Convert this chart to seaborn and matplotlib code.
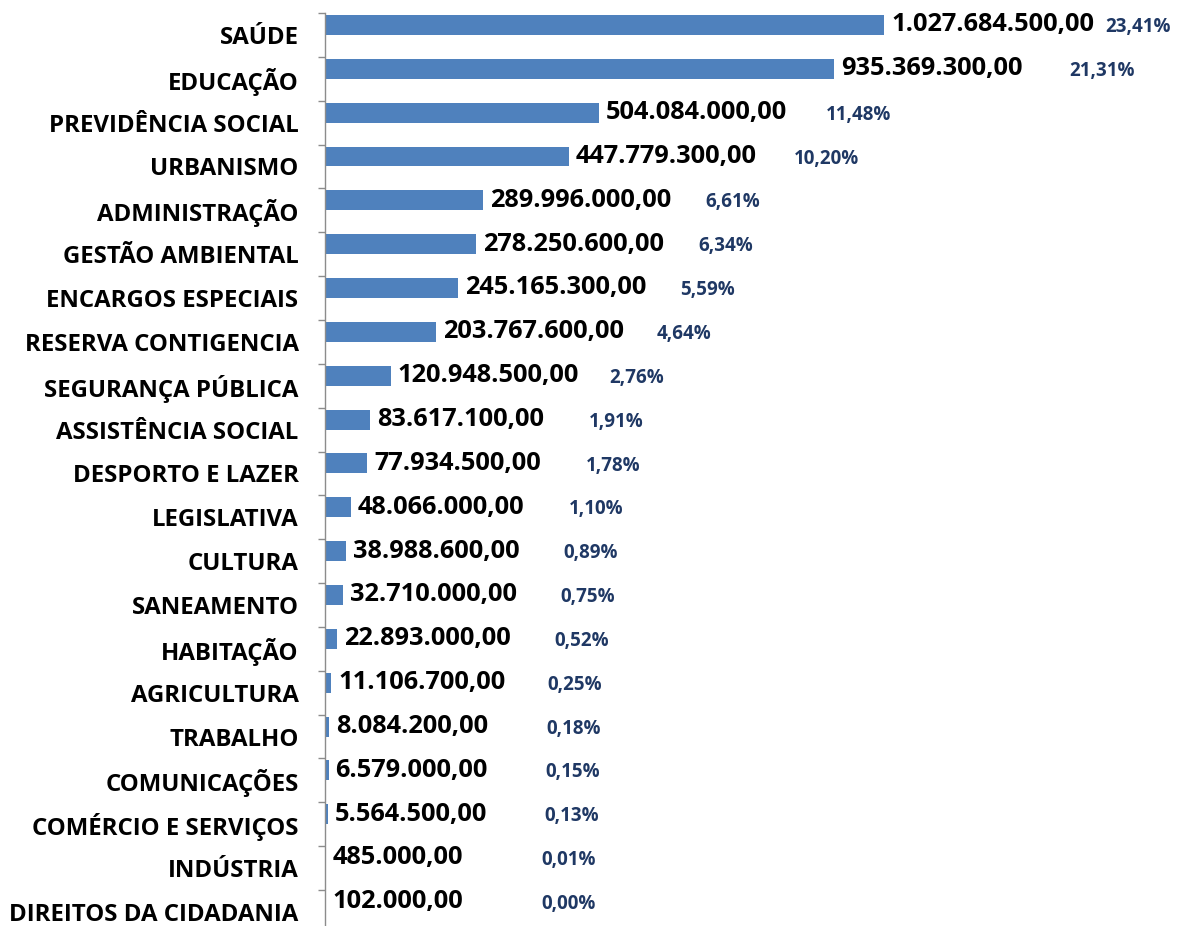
import numpy as np
import pandas as pd
import matplotlib
matplotlib.use("Agg")
import matplotlib.pyplot as plt
import seaborn as sns

categorias = ["SAÚDE", "EDUCAÇÃO", "PREVIDÊNCIA SOCIAL", "URBANISMO", "ADMINISTRAÇÃO",
              "GESTÃO AMBIENTAL", "ENCARGOS ESPECIAIS", "RESERVA CONTIGENCIA",
              "SEGURANÇA PÚBLICA", "ASSISTÊNCIA SOCIAL", "DESPORTO E LAZER", "LEGISLATIVA",
              "CULTURA", "SANEAMENTO", "HABITAÇÃO", "AGRICULTURA", "TRABALHO",
              "COMUNICAÇÕES", "COMÉRCIO E SERVIÇOS", "INDÚSTRIA", "DIREITOS DA CIDADANIA"]
valores = [1027684500.00, 935369300.00, 504084000.00, 447779300.00, 289996000.00,
           278250600.00, 245165300.00, 203767600.00, 120948500.00, 83617100.00,
           77934500.00, 48066000.00, 38988600.00, 32710000.00, 22893000.00,
           11106700.00, 8084200.00, 6579000.00, 5564500.00, 485000.00, 102000.00]
percentuais = [23.41, 21.31, 11.48, 10.20, 6.61, 6.34, 5.59, 4.64, 2.76, 1.91, 1.78,
               1.10, 0.89, 0.75, 0.52, 0.25, 0.18, 0.15, 0.13, 0.01, 0.00]

BAR = "#4F81BD"
PCT = "#1F3864"
FONT = "Open Sans"


def fmt_br(v):
    s = f"{v:,.2f}"
    return s.replace(",", "X").replace(".", ",").replace("X", ".")


# second (empty) series mimics the Excel clustered layout, bars sit in the upper half
df = pd.DataFrame({
    "cat": categorias * 2,
    "valor": valores + [0.0] * len(valores),
    "serie": ["valor"] * len(valores) + ["vazio"] * len(valores),
})

sns.set_style("white")
plt.rcParams["font.family"] = [FONT, "DejaVu Sans"]

fig = plt.figure(figsize=(11.78, 9.26), dpi=100)
# plot area runs a little past the bottom edge (cropped like the original)
top_px, band_px = 13, 43.85
h_px = band_px * len(categorias)
ax = fig.add_axes([325 / 1178, 1 - (top_px + h_px) / 926, 1 - 325 / 1178, h_px / 926])

sns.barplot(data=df, x="valor", y="cat", hue="serie", orient="h", dodge=True,
            palette={"valor": BAR, "vazio": BAR}, width=0.91, linewidth=0,
            saturation=1, legend=False, ax=ax)

ax.set_xlim(0, 1568e6)
ax.set_ylim(len(categorias) - 0.5, -0.5)
ax.set_xlabel("")
ax.set_ylabel("")
ax.set_xticks([])

for sp in ["top", "right", "bottom"]:
    ax.spines[sp].set_visible(False)
ax.spines["left"].set_color("#8C8C8C")
ax.spines["left"].set_linewidth(1.0)

ax.tick_params(axis="y", which="major", left=True, length=0, pad=19)
ax.set_yticks(np.arange(-0.5, len(categorias), 1), minor=True)
ax.tick_params(axis="y", which="minor", left=True, length=5, width=1.0,
               color="#8C8C8C", direction="out")
for lab in ax.get_yticklabels():
    lab.set_fontsize(17.3)
    lab.set_fontweight("bold")
    lab.set_color("black")

for i, (v, p) in enumerate(zip(valores, percentuais)):
    yb = i - 0.23
    ax.annotate(fmt_br(v), xy=(v, yb), xytext=(5, 0), textcoords="offset points",
                ha="left", va="center", fontsize=18.3, fontweight="bold", color="black")
    xp = min(1.037 * v + 398e6, 1434e6)
    ax.text(xp, yb + 0.05, f"{p:.2f}%".replace(".", ","), ha="left", va="center",
            fontsize=13.5, fontweight="bold", color=PCT)

fig.savefig("out.png", dpi=100)
